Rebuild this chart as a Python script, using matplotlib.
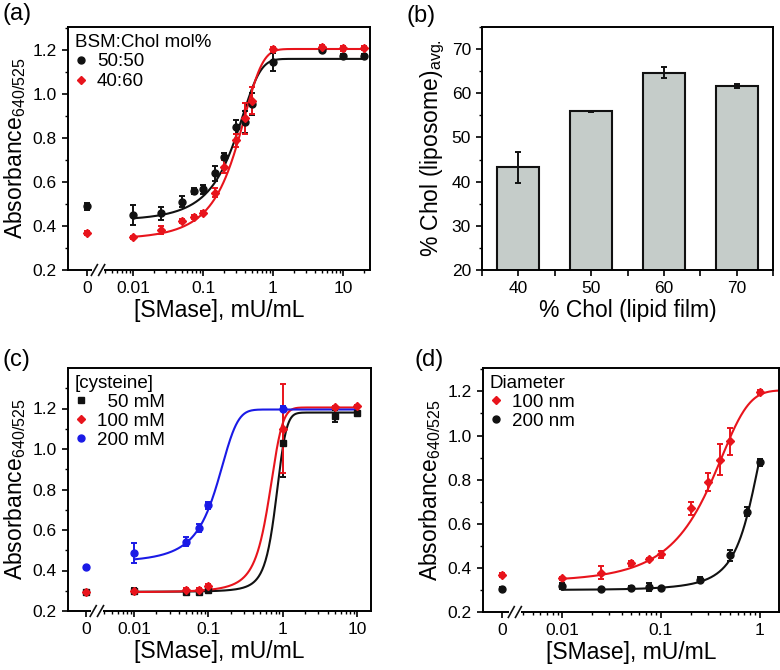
import numpy as np
import matplotlib
matplotlib.use('Agg')
import matplotlib.pyplot as plt
from matplotlib.lines import Line2D
import matplotlib.transforms as mtransforms

plt.rcParams['font.family'] = ['Liberation Sans', 'DejaVu Sans']
plt.rcParams['mathtext.fontset'] = 'custom'
plt.rcParams['mathtext.rm'] = 'Liberation Sans'
plt.rcParams['mathtext.it'] = 'Liberation Sans'

RED = '#e8141c'
BLUE = '#1a1ae6'
BLACK = '#111111'

# ---- panel (a): BSM:Chol ratio ----
a_conc = [0, 0.01, 0.025, 0.05, 0.075, 0.1, 0.15, 0.2, 0.3, 0.4, 0.5, 1, 5, 10, 20]
a_5050 = [0.49, 0.45, 0.458, 0.51, 0.56, 0.567, 0.64, 0.715, 0.85, 0.875, 0.957, 1.147, 1.20, 1.173, 1.173]
a_5050_err = [0.015, 0.045, 0.03, 0.025, 0.015, 0.02, 0.035, 0.015, 0.03, 0.05, 0.05, 0.04, 0.01, 0.01, 0.01]
a_4060 = [0.367, 0.348, 0.382, 0.424, 0.44, 0.46, 0.552, 0.67, 0.79, 0.89, 0.97, 1.203, 1.215, 1.208, 1.21]
a_4060_err = [0.01, 0.008, 0.02, 0.01, 0.008, 0.01, 0.02, 0.03, 0.03, 0.07, 0.06, 0.01, 0.01, 0.01, 0.01]

# ---- panel (b): cholesterol incorporation ----
b_film = [40, 50, 60, 70]
b_lipo = [43.3, 55.9, 64.7, 61.6]
b_err = [3.5, 0.15, 1.2, 0.4]

# ---- panel (c): cysteine concentration ----
c_conc = [0, 0.01, 0.05, 0.075, 0.1, 1, 5, 10]
c_50 = [0.292, 0.30, 0.293, 0.296, 0.302, 1.03, 1.165, 1.18]
c_50_err = [0.005, 0.012, 0.008, 0.008, 0.006, 0.17, 0.03, 0.008]
c_100 = [0.295, 0.298, 0.305, 0.305, 0.325, 1.10, 1.205, 1.21]
c_100_err = [0.005, 0.008, 0.008, 0.008, 0.008, 0.22, 0.008, 0.008]
c_conc_200 = [0, 0.01, 0.05, 0.075, 0.1, 1]
c_200 = [0.415, 0.485, 0.543, 0.609, 0.721, 1.20]
c_200_err = [0.005, 0.05, 0.02, 0.02, 0.015, 0.01]

# ---- panel (d): liposome diameter ----
d_conc_100 = [0, 0.01, 0.025, 0.05, 0.075, 0.1, 0.2, 0.3, 0.4, 0.5, 1]
d_100 = [0.367, 0.352, 0.379, 0.42, 0.438, 0.462, 0.67, 0.79, 0.89, 0.973, 1.197]
d_100_err = [0.01, 0.008, 0.03, 0.01, 0.008, 0.015, 0.03, 0.04, 0.07, 0.06, 0.01]
d_conc_200 = [0, 0.01, 0.025, 0.05, 0.075, 0.1, 0.25, 0.5, 0.75, 1]
d_200 = [0.306, 0.318, 0.303, 0.31, 0.313, 0.309, 0.347, 0.458, 0.655, 0.879]
d_200_err = [0.008, 0.015, 0.006, 0.008, 0.02, 0.006, 0.01, 0.025, 0.02, 0.015]

# Boltzmann fit parameters: (A1, A2, x0, dx, x_end)
fit_a_5050 = (0.24, 1.16, 0.22, 0.16, 20)
fit_a_4060 = (0.13, 1.205, 0.24, 0.17, 20)
fit_c_50 = (0.292, 1.18, 0.80, 0.14, 10)
fit_c_100 = (0.28, 1.205, 0.64, 0.15, 10)
fit_c_200 = (0.373, 1.195, 0.12, 0.05, 10)
fit_d_100 = (0.02, 1.205, 0.20, 0.20, 1.6)
fit_d_200 = (0.281, 1.20, 0.85, 0.22, 1.0)


def boltzmann(x, p):
    a1, a2, x0, dx, _ = p
    return a2 + (a1 - a2) / (1 + np.exp((x - x0) / dx))


def xpos(x, zero):
    x = np.asarray(x, dtype=float)
    out = np.full(x.shape, zero)
    out[x > 0] = np.log10(x[x > 0])
    return out


def setup_broken_x(ax, xlim, zero, brk, labels_at):
    ax.set_xlim(*xlim)
    major = [zero] + labels_at
    names = ['0'] + [('%g' % 10 ** p) for p in labels_at]
    ax.set_xticks(major)
    ax.set_xticklabels(names)
    minor = []
    for dec in range(-3, 3):
        for k in range(2, 10):
            v = dec + np.log10(k)
            if brk + 0.05 < v < xlim[1]:
                minor.append(v)
    ax.set_xticks(minor, minor=True)
    # break marks on the bottom axis
    span = xlim[1] - xlim[0]
    trans = mtransforms.blended_transform_factory(ax.transData, ax.transAxes)
    w = 0.02 * span
    ax.plot([brk - w, brk + w], [0, 0], color='white', lw=3, transform=trans,
            clip_on=False, zorder=5, solid_capstyle='butt')
    for off in (-0.012 * span, 0.012 * span):
        ax.plot([brk + off - 0.01 * span, brk + off + 0.01 * span], [-0.022, 0.022],
                color=BLACK, lw=1.2, transform=trans, clip_on=False, zorder=6)


def style_axes(ax):
    for s in ax.spines.values():
        s.set_linewidth(1.4)
    ax.tick_params(which='major', direction='out', length=4.5, width=1.2,
                   labelsize=12.5, top=False, right=False)
    ax.tick_params(which='minor', direction='out', length=2.5, width=1.0,
                   top=False, right=False)


def series(ax, conc, y, err, zero, color, marker, ms):
    ax.errorbar(xpos(conc, zero), y, yerr=err, fmt=marker, color=color, ms=ms,
                ecolor=color, elinewidth=1.4, capsize=2.5, capthick=1.4, zorder=3)


def fitline(ax, p, color):
    xs = np.logspace(-2, np.log10(p[4]), 400)
    ax.plot(np.log10(xs), boltzmann(xs, p), color=color, lw=1.5, zorder=2)


def absorb_axes(ax, ylim):
    ax.set_ylim(*ylim)
    ax.set_yticks([0.2, 0.4, 0.6, 0.8, 1.0, 1.2])
    ax.set_yticks(np.arange(0.3, ylim[1], 0.2), minor=True)
    ax.set_yticklabels(['0.2', '0.4', '0.6', '0.8', '1.0', '1.2'])
    ax.set_ylabel('Absorbance$_{640/525}$', fontsize=16.5, labelpad=3)
    ax.set_xlabel('[SMase], mU/mL', fontsize=16.5, labelpad=2)


def handle(color, marker, ms):
    return Line2D([], [], ls='none', marker=marker, color=color, ms=ms)


fig = plt.figure(figsize=(7.8, 6.7), dpi=100)
ax_a = fig.add_axes([68 / 780, 1 - 270 / 670, 302 / 780, 243 / 670])
ax_b = fig.add_axes([482 / 780, 1 - 270 / 670, 291 / 780, 243 / 670])
ax_c = fig.add_axes([68 / 780, 1 - 611 / 670, 303 / 780, 243 / 670])
ax_d = fig.add_axes([483 / 780, 1 - 612 / 670, 296 / 780, 244 / 670])

# (a)
z_a = -2.657
style_axes(ax_a)
setup_broken_x(ax_a, (-2.929, 1.386), z_a, -2.5, [-2, -1, 0, 1])
absorb_axes(ax_a, (0.2, 1.305))
fitline(ax_a, fit_a_5050, BLACK)
fitline(ax_a, fit_a_4060, RED)
series(ax_a, a_conc, a_5050, a_5050_err, z_a, BLACK, 'o', 5)
series(ax_a, a_conc, a_4060, a_4060_err, z_a, RED, 'D', 4.5)
ax_a.legend([handle(BLACK, 'o', 5), handle(RED, 'D', 4.5)], ['50:50', '40:60'],
            title='BSM:Chol mol%', loc='upper left', frameon=False, fontsize=13.5,
            title_fontsize=13.5, handlelength=0.7, handletextpad=0.5, labelspacing=0.15,
            borderaxespad=0.15, borderpad=0.2, alignment='left')

# (b)
style_axes(ax_b)
ax_b.bar(b_film, b_lipo, width=5.8, color='#c5ccc9', edgecolor=BLACK, linewidth=1.5,
         bottom=0, zorder=2)
ax_b.errorbar(b_film, b_lipo, yerr=b_err, fmt='none', ecolor=BLACK, elinewidth=1.4,
              capsize=2.5, capthick=1.4, zorder=3)
ax_b.set_xlim(35, 75)
ax_b.set_ylim(20, 75)
ax_b.set_xticks(b_film)
ax_b.set_xticks([35, 45, 55, 65, 75], minor=True)
ax_b.tick_params(axis='x', which='minor', length=4.5, width=1.2)
ax_b.set_yticks([20, 30, 40, 50, 60, 70])
ax_b.set_yticks([25, 35, 45, 55, 65, 75], minor=True)
ax_b.set_ylabel('% Chol (liposome)$_{\\mathrm{avg.}}$', fontsize=16.5, labelpad=3)
ax_b.set_xlabel('% Chol (lipid film)', fontsize=16.5, labelpad=2)

# (c)
z_c = -2.65
style_axes(ax_c)
setup_broken_x(ax_c, (-2.888, 1.185), z_c, -2.5, [-2, -1, 0, 1])
absorb_axes(ax_c, (0.2, 1.4))
fitline(ax_c, fit_c_50, BLACK)
fitline(ax_c, fit_c_100, RED)
fitline(ax_c, fit_c_200, BLUE)
series(ax_c, c_conc, c_50, c_50_err, z_c, BLACK, 's', 4.5)
series(ax_c, c_conc, c_100, c_100_err, z_c, RED, 'D', 4.5)
series(ax_c, c_conc_200, c_200, c_200_err, z_c, BLUE, 'o', 5)
ax_c.legend([handle(BLACK, 's', 4.5), handle(RED, 'D', 4.5), handle(BLUE, 'o', 5)],
            ['  50 mM', '100 mM', '200 mM'], title='[cysteine]', loc='upper left',
            frameon=False, fontsize=13.5, title_fontsize=13.5, handlelength=0.7,
            handletextpad=0.5, labelspacing=0.1, borderaxespad=0.15, borderpad=0.2,
            alignment='left')

# (d)
z_d = -2.609
style_axes(ax_d)
setup_broken_x(ax_d, (-2.803, 0.197), z_d, -2.48, [-2, -1, 0])
absorb_axes(ax_d, (0.2, 1.306))
fitline(ax_d, fit_d_100, RED)
fitline(ax_d, fit_d_200, BLACK)
series(ax_d, d_conc_100, d_100, d_100_err, z_d, RED, 'D', 4.5)
series(ax_d, d_conc_200, d_200, d_200_err, z_d, BLACK, 'o', 5)
ax_d.legend([handle(RED, 'D', 4.5), handle(BLACK, 'o', 5)], ['100 nm', '200 nm'],
            title='Diameter', loc='upper left', frameon=False, fontsize=13.5,
            title_fontsize=13.5, handlelength=0.7, handletextpad=0.5, labelspacing=0.1,
            borderaxespad=0.15, borderpad=0.2, alignment='left')

for lab, x, y in [('(a)', 3, 14), ('(b)', 407, 16), ('(c)', 3, 360), ('(d)', 415, 360)]:
    fig.text(x / 780, 1 - y / 670, lab, fontsize=17, ha='left', va='center')

fig.savefig('out.png', dpi=100)
